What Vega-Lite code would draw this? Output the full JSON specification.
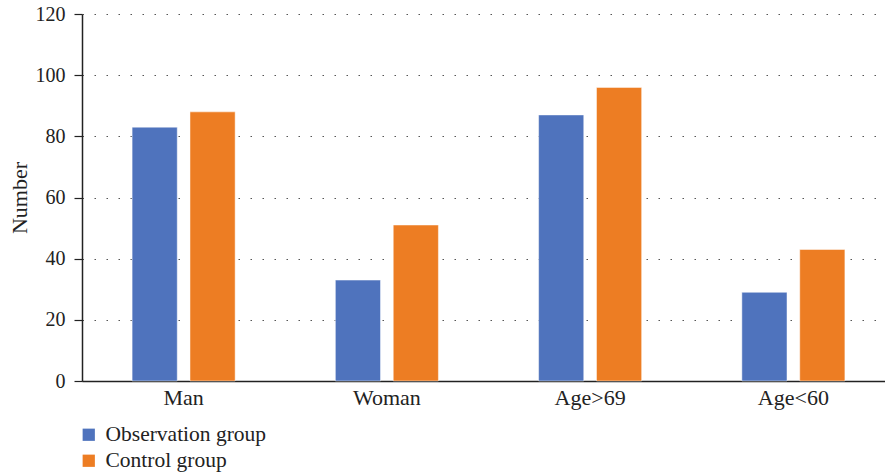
{
  "$schema": "https://vega.github.io/schema/vega-lite/v6.json",
  "autosize": "none",
  "width": 813,
  "height": 367,
  "padding": {"left": 82, "top": 14, "right": 0, "bottom": 92},
  "background": "white",
  "data": {
    "values": [
      {"category": "Man", "group": "Observation group", "value": 83},
      {"category": "Man", "group": "Control group", "value": 88},
      {"category": "Woman", "group": "Observation group", "value": 33},
      {"category": "Woman", "group": "Control group", "value": 51},
      {"category": "Age>69", "group": "Observation group", "value": 87},
      {"category": "Age>69", "group": "Control group", "value": 96},
      {"category": "Age<60", "group": "Observation group", "value": 29},
      {"category": "Age<60", "group": "Control group", "value": 43}
    ]
  },
  "mark": {"type": "bar", "stroke": "white", "strokeWidth": 0.8, "strokeOpacity": 0.6},
  "encoding": {
    "x": {
      "field": "category", "type": "nominal", "sort": ["Man", "Woman", "Age>69", "Age<60"],
      "scale": {"paddingInner": 0.493, "paddingOuter": 0.2465},
      "axis": {"title": null, "labelAngle": 0, "ticks": false, "domainColor": "#222", "domainWidth": 1.5, "labelPadding": 6, "labelFont": "Liberation Serif", "labelFontSize": 22, "labelColor": "#222", "grid": false}
    },
    "xOffset": {
      "field": "group", "type": "nominal", "sort": ["Observation group", "Control group"],
      "scale": {"paddingInner": 0.22}
    },
    "y": {
      "field": "value", "type": "quantitative",
      "scale": {"domain": [0, 120], "nice": false},
      "axis": {"title": "Number", "values": [0, 20, 40, 60, 80, 100, 120], "titleFont": "Liberation Serif", "titleFontSize": 22, "titleFontWeight": "normal", "titleColor": "#222", "titlePadding": 4,
        "labelFont": "Liberation Serif", "labelFontSize": 20, "labelColor": "#222", "labelPadding": 9,
        "tickSize": 8, "tickColor": "#222", "domainColor": "#222", "domainWidth": 1.5, "tickWidth": 1.2,
        "grid": true, "gridDash": [1.5, 10.5], "gridColor": "#555", "gridWidth": 1.2}
    },
    "color": {
      "field": "group", "type": "nominal", "sort": ["Observation group", "Control group"],
      "scale": {"domain": ["Observation group", "Control group"], "range": ["#4F73BD", "#ED7D23"]},
      "legend": {"title": null, "orient": "none", "legendX": -4, "legendY": 410, "direction": "vertical",
        "symbolType": "square", "symbolSize": 150, "symbolStrokeWidth": 0, "symbolOpacity": 1, "labelLimit": 500,
        "labelFont": "Liberation Serif", "labelFontSize": 21.5, "labelColor": "#222", "rowPadding": 3, "labelOffset": 6}
    }
  },
  "config": {"view": {"stroke": null}, "font": "Liberation Serif"}
}
